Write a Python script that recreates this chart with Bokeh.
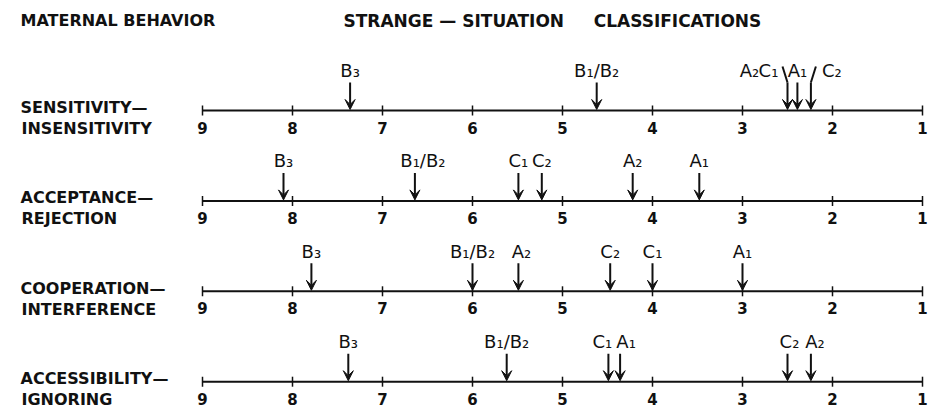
from bokeh.plotting import figure
from bokeh.models import Range1d, ColumnDataSource, Arrow, VeeHead
from bokeh.core.properties import value
from bokeh.embed import file_html
from bokeh.resources import INLINE

# ---------------- data ----------------
title_left = "MATERNAL BEHAVIOR"
title_right = "STRANGE \u2014 SITUATION\u00a0\u00a0\u00a0\u00a0 CLASSIFICATIONS"

scale_top = ["SENSITIVITY\u2014", "ACCEPTANCE\u2014", "COOPERATION\u2014", "ACCESSIBILITY\u2014"]
scale_bottom = ["INSENSITIVITY", "REJECTION", "INTERFERENCE", "IGNORING"]

tick_values = [9, 8, 7, 6, 5, 4, 3, 2, 1]
tick_labels = ["9", "8", "7", "6", "5", "4", "3", "2", "1"]

classes = ["A\u2081", "A\u2082", "B\u2081/B\u2082", "B\u2083", "C\u2081", "C\u2082"]
sensitivity = [2.39, 2.50, 4.62, 7.36, 2.50, 2.24]
acceptance = [3.48, 4.22, 6.64, 8.10, 5.49, 5.23]
cooperation = [3.00, 5.49, 6.00, 7.79, 4.00, 4.47]
accessibility = [4.36, 2.24, 5.62, 7.38, 4.49, 2.50]
scale_values = [sensitivity, acceptance, cooperation, accessibility]

# ---------------- layout ----------------
W, H = 930, 409
PX9, PX1 = 202.0, 922.0
PPU = (PX1 - PX9) / 8.0
x_start = 9 + PX9 / PPU
x_end = 1 - (W - PX1) / PPU
ROW0, STEP = 110.0, 90.4
row_y = [ROW0 + i * STEP for i in range(len(scale_top))]

# label offsets (pixels) where labels are crowded
label_dx = {(0, "A\u2082"): -38, (0, "C\u2081"): -19, (0, "C\u2082"): 21,
            (1, "B\u2081/B\u2082"): 8,
            (2, "A\u2082"): 3,
            (3, "C\u2081"): -6, (3, "A\u2081"): 6, (3, "C\u2082"): 2, (3, "A\u2082"): 4}
connector_dx = {(0, "C\u2081"): -5, (0, "C\u2082"): 5}

INK = "#111111"
FONT = value("DejaVu Sans")

p = figure(width=W, height=H, x_range=Range1d(x_start, x_end), y_range=Range1d(H, 0),
           toolbar_location=None, output_backend="svg", min_border=0,
           x_axis_location=None, y_axis_location=None)
p.grid.visible = False
p.outline_line_color = None
p.background_fill_color = "white"
p.border_fill_color = "white"

# titles
p.text(x=[x_start], y=[20], text=[title_left], x_offset=20, text_font=FONT,
       text_font_style="bold", text_font_size="16px", text_color=INK,
       text_align="left", text_baseline="middle")
p.text(x=[x_start], y=[20], text=[title_right], x_offset=343, text_font=FONT,
       text_font_style="bold", text_font_size="17px", text_color=INK,
       text_align="left", text_baseline="middle")

# scale names
p.text(x=[x_start] * 4, y=[y - 3 for y in row_y], text=scale_top, x_offset=20,
       text_font=FONT, text_font_style="bold", text_font_size="16px", text_color=INK,
       text_align="left", text_baseline="middle")
p.text(x=[x_start] * 4, y=[y + 18 for y in row_y], text=scale_bottom, x_offset=21,
       text_font=FONT, text_font_style="bold", text_font_size="16px", text_color=INK,
       text_align="left", text_baseline="middle")

# scale lines, ticks and tick labels
p.segment(x0=[tick_values[0]] * 4, x1=[tick_values[-1]] * 4, y0=row_y, y1=row_y,
          line_color=INK, line_width=2)
tx, ty0, ty1, tly, tl = [], [], [], [], []
for y in row_y:
    for v, lab in zip(tick_values, tick_labels):
        tx.append(v); ty0.append(y - 5); ty1.append(y + 5)
        tly.append(y + 17); tl.append(lab)
p.segment(x0=tx, x1=tx, y0=ty0, y1=ty1, line_color=INK, line_width=1.5)
p.text(x=tx, y=tly, text=tl, text_font=FONT, text_font_style="bold",
       text_font_size="15px", text_color=INK, text_align="center", text_baseline="middle")

# arrows, connectors and classification labels
ax, ay0, ay1 = [], [], []
lx, ly, lt, ldx = [], [], [], []
cx0, cx1, cy0, cy1 = [], [], [], []
for r, vals in enumerate(scale_values):
    y = row_y[r]
    seen = set()
    for cls, v in zip(classes, vals):
        if v not in seen:
            seen.add(v)
            ax.append(v); ay0.append(y - 28); ay1.append(y - 1)
        lx.append(v); ly.append(y - 40); lt.append(cls)
        ldx.append(label_dx.get((r, cls), 0))
        if (r, cls) in connector_dx:
            cx0.append(v - connector_dx[(r, cls)] / PPU); cx1.append(v)
            cy0.append(y - 44); cy1.append(y - 28)

arrow_src = ColumnDataSource(dict(x=ax, y0=ay0, y1=ay1))
p.add_layout(Arrow(end=VeeHead(size=10, fill_color=INK, line_color=INK, line_width=1),
                   x_start="x", y_start="y0", x_end="x", y_end="y1",
                   line_color=INK, line_width=2, source=arrow_src))
p.segment(x0=cx0, x1=cx1, y0=cy0, y1=cy1, line_color=INK, line_width=2)
label_src = ColumnDataSource(dict(x=lx, y=ly, text=lt, dx=ldx))
p.text(x="x", y="y", text="text", x_offset="dx", source=label_src, text_font=FONT,
       text_font_size="18px", text_color=INK, text_align="center", text_baseline="middle")

open("out.html", "w").write(file_html(p, INLINE))
